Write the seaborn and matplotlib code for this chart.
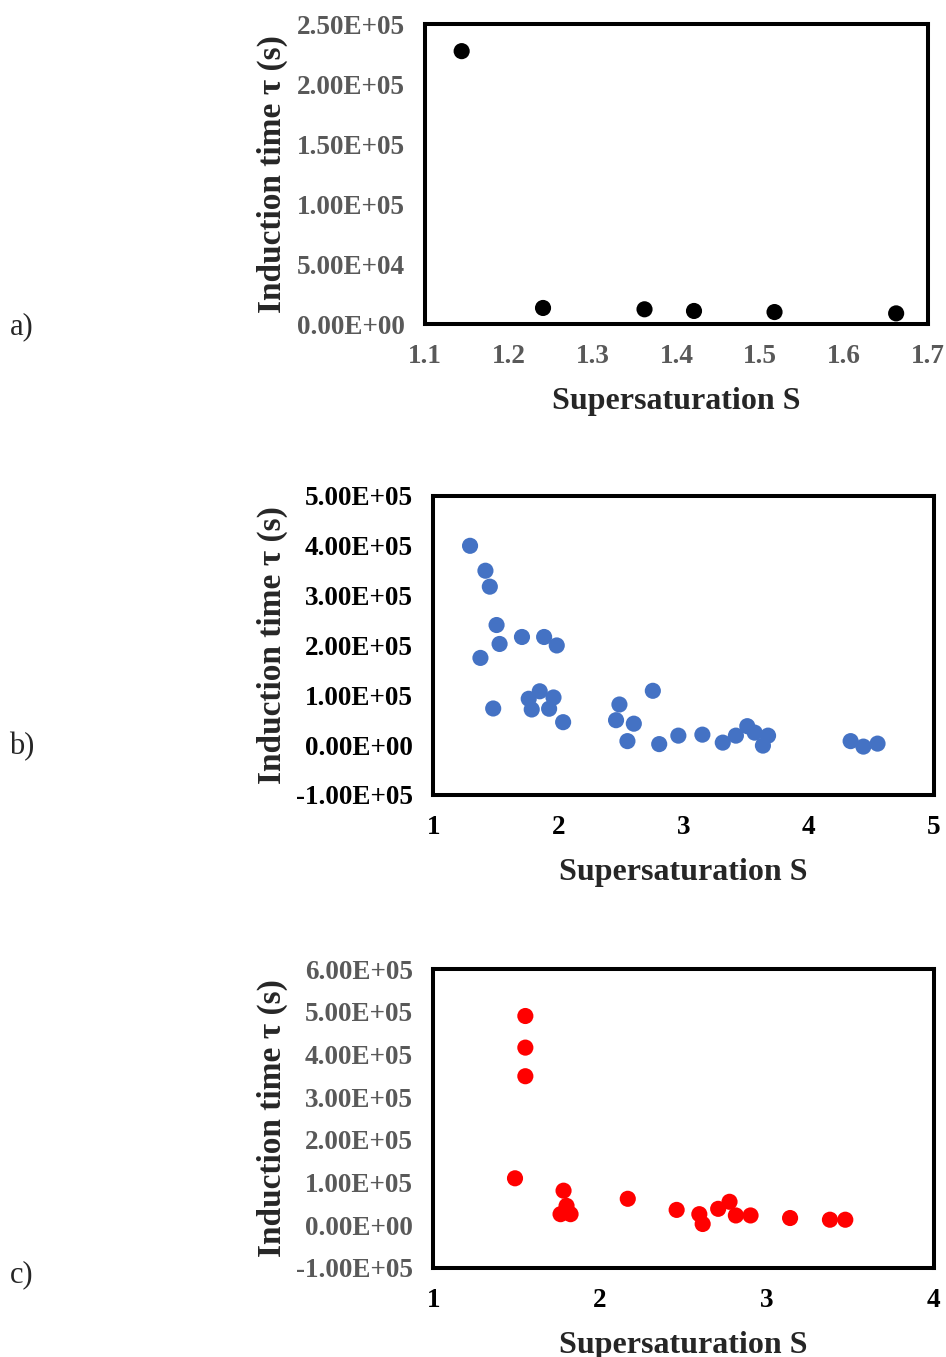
# induction time vs supersaturation, three panels
import seaborn as sns
import matplotlib.pyplot as plt
import pandas as pd
from matplotlib.ticker import FuncFormatter, MultipleLocator

# panel a
a_S = [1.144, 1.241, 1.362, 1.421, 1.517, 1.662]
a_tau = [227400, 13400, 12300, 10900, 10000, 8900]

# panel b
b_S = [1.294, 1.417, 1.452, 1.506, 1.530, 1.377, 1.479, 1.709, 1.886, 1.987,
       1.763, 1.851, 1.787, 1.961, 1.926, 2.038, 2.488, 2.461, 2.603, 2.552,
       2.755, 2.806, 2.959, 3.151, 3.314, 3.419, 3.510, 3.569, 3.676, 3.635,
       4.336, 4.438, 4.551]
b_tau = [400000, 350000, 318000, 241000, 203000, 175000, 73500, 217000, 217000, 200000,
         93000, 108000, 71500, 95600, 73000, 46000, 81500, 50000, 43000, 8000,
         109000, 2000, 19000, 21000, 5000, 19000, 38000, 25000, 19000, -1000,
         8000, -3000, 3000]

# panel c
c_S = [1.552, 1.552, 1.552, 1.490, 1.781, 1.799, 1.763, 1.823, 2.166, 2.459,
       2.595, 2.615, 2.708, 2.776, 2.814, 2.902, 3.139, 3.378, 3.470]
c_tau = [490000, 416000, 349000, 110000, 81000, 45500, 26000, 26000, 62000, 36000,
         26000, 3000, 38500, 55000, 23000, 23000, 17000, 13000, 13000]

sns.set_style("white")
plt.rcParams['font.family'] = ['Liberation Serif', 'DejaVu Serif']
plt.rcParams['font.weight'] = 'bold'

fig = plt.figure(figsize=(9.46, 13.57), dpi=100)

gray = '#595959'
sci = FuncFormatter(lambda v, p: f"{v:.2E}")


def style_axes(ax, xlim, ylim, xstep, ystep, xcol, ycol, xfmt):
    ax.set_xlim(*xlim)
    ax.set_ylim(*ylim)
    ax.xaxis.set_major_locator(MultipleLocator(xstep))
    ax.yaxis.set_major_locator(MultipleLocator(ystep))
    ax.xaxis.set_major_formatter(FuncFormatter(xfmt))
    ax.yaxis.set_major_formatter(sci)
    for s in ax.spines.values():
        s.set_visible(True)
        s.set_linewidth(2.9)
        s.set_color('black')
    ax.tick_params(axis='both', direction='out', length=4.5, width=2.2,
                   color='black', labelsize=19.5, pad=10)
    ax.tick_params(axis='x', labelcolor=xcol)
    ax.tick_params(axis='y', labelcolor=ycol)
    for lab in ax.get_xticklabels() + ax.get_yticklabels():
        lab.set_fontweight('bold')
    ax.set_xlabel('Supersaturation S', fontsize=23, fontweight='bold', labelpad=13)
    ax.set_ylabel('Induction time τ (s)', fontsize=24, fontweight='bold', labelpad=6)
    ax.grid(False)


ax1 = fig.add_axes([0.449, 0.7612, 0.532, 0.2211])
sns.scatterplot(x=a_S, y=a_tau, ax=ax1, color='black', s=135, edgecolor='none')
style_axes(ax1, (1.1, 1.7), (0, 2.5e5), 0.1, 5e4, gray, gray, lambda v, p: f"{v:.1f}")

ax2 = fig.add_axes([0.458, 0.4142, 0.529, 0.2203])
sns.scatterplot(x=b_S, y=b_tau, ax=ax2, color='#4472C4', s=135, edgecolor='none')
style_axes(ax2, (1, 5), (-1e5, 5e5), 1, 1e5, 'black', 'black', lambda v, p: f"{v:.0f}")

ax3 = fig.add_axes([0.458, 0.0656, 0.529, 0.2203])
sns.scatterplot(x=c_S, y=c_tau, ax=ax3, color='#FF0000', s=135, edgecolor='none')
style_axes(ax3, (1, 4), (-1e5, 6e5), 1, 1e5, 'black', gray, lambda v, p: f"{v:.0f}")

for lab, y in [('a)', 0.759), ('b)', 0.450), ('c)', 0.061)]:
    fig.text(0.010, y, lab, fontsize=22, fontweight='normal', va='center')

fig.savefig('out.png', dpi=100)
